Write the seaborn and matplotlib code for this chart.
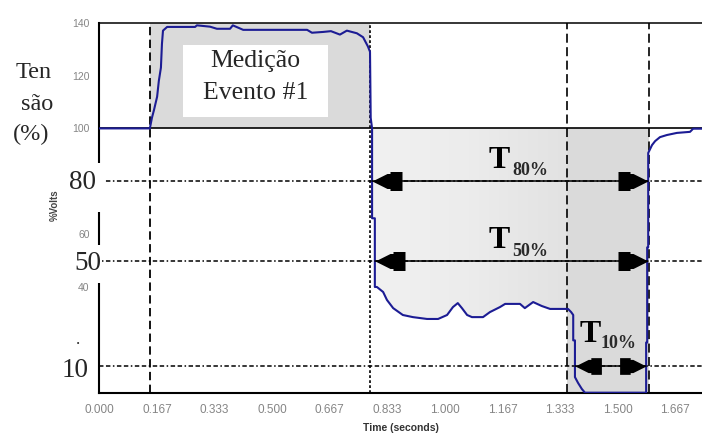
import numpy as np
import pandas as pd
import matplotlib
matplotlib.use('Agg')
import matplotlib.pyplot as plt
from matplotlib.path import Path
from matplotlib.markers import MarkerStyle
from matplotlib.patches import Rectangle
from matplotlib.colors import LinearSegmentedColormap
import seaborn as sns

# ---------------- data ----------------
time_s = [0.000, 0.146, 0.152, 0.158, 0.167, 0.172, 0.178, 0.181, 0.184, 0.196,
          0.277, 0.282, 0.320, 0.340, 0.378, 0.386, 0.416, 0.601, 0.615, 0.647,
          0.670, 0.696, 0.716, 0.745, 0.763, 0.777, 0.783, 0.785, 0.789, 0.789,
          0.797, 0.797, 0.803, 0.821, 0.832, 0.850, 0.878, 0.907, 0.948, 0.980,
          1.006, 1.023, 1.037, 1.049, 1.064, 1.078, 1.110, 1.130, 1.159, 1.174,
          1.217, 1.231, 1.255, 1.280, 1.304, 1.324, 1.356, 1.365, 1.371, 1.371,
          1.376, 1.376, 1.385, 1.396, 1.405, 1.582, 1.582, 1.585, 1.585, 1.588,
          1.588, 1.599, 1.608, 1.622, 1.642, 1.671, 1.709, 1.718, 1.744]
volts_pct = [100, 100, 104, 107, 112, 118, 123, 132, 137, 138.4,
             138.4, 139, 138.5, 137.7, 137.7, 139, 137.3, 137.3, 136.2, 136.5,
             136.8, 135.5, 137, 136, 134.5, 131, 129, 104, 100, 66,
             66, 40, 40, 38.1, 35.1, 32.0, 29.4, 28.6, 27.9, 27.9,
             29.4, 32.4, 33.9, 32.0, 29.4, 28.6, 28.6, 30.5, 32.4, 33.6,
             33.6, 32.0, 34.3, 32.8, 31.7, 31.7, 31.7, 30.5, 29.4, 19.8,
             19.8, 5.9, 3.7, 1.4, 0, 0, 19, 19, 55, 55,
             90.7, 93.7, 95.2, 96.7, 97.5, 98.3, 98.7, 99.9, 99.9]

x_ticks = [0, 1/6, 2/6, 3/6, 4/6, 5/6, 6/6, 7/6, 8/6, 9/6, 10/6]
x_tick_labels = ['0.000', '0.167', '0.333', '0.500', '0.667', '0.833',
                 '1.000', '1.167', '1.333', '1.500', '1.667']
y_ticks = [0, 20, 40, 60, 80, 100, 120, 140]
y_tick_labels = ['', '', '40', '60', '', '100', '120', '140']

event_start, event_end = 0.146, 0.783
t10_start, t10_end = 1.354, 1.590
thresholds = [80, 50, 10]
threshold_labels = ['80', '50', '10']
arrow_start = [0.789, 0.797, 1.376]
arrow_end = [1.588, 1.588, 1.582]
arrow_subs = ['80%', '50%', '10%']

# ---------------- style ----------------
sns.set_style('white')
plt.rcParams['font.family'] = ['Liberation Sans', 'DejaVu Sans']
plt.rcParams['lines.scale_dashes'] = False

W, H = 702, 436
fig = plt.figure(figsize=(W / 100, H / 100), dpi=100)
L, R, T, B = 99.4, 702, 22.7, 392.7
ax = fig.add_axes([L / W, 1 - B / H, (R - L) / W, (B - T) / H])
XMAX = (R - L) / 345.6


def fx(x):
    return x / W


def fy(y):
    return 1 - y / H


t = np.array(time_s)
v = np.array(volts_pct)

# ---------------- shaded regions ----------------
ax.fill_between([event_start, event_end], 100, 140, color='#dadada', lw=0, zorder=0.4)
ax.fill_between([t10_start, t10_end], 0, 100, color='#dadada', lw=0, zorder=0.4)

mask = (t > event_end) & (t < t10_start)
tb = np.concatenate([[event_end], t[mask], [t10_start]])
vb = np.concatenate([[np.interp(event_end, t, v)], v[mask], [np.interp(t10_start, t, v)]])
poly = ax.fill_between(tb, np.minimum(vb, 100), 100, facecolor='none', lw=0)
cmap = LinearSegmentedColormap.from_list('g', ['#f1f1f1', '#ececec', '#e2e2e2'])
grad = np.linspace(0, 1, 256).reshape(1, -1)
im = ax.imshow(grad, extent=[event_end, t10_start, 0, 100], aspect='auto',
               cmap=cmap, origin='lower', zorder=0.5, interpolation='bilinear')
im.set_clip_path(poly.get_paths()[0], ax.transData)

# ---------------- reference lines ----------------
ax.axhline(100, color='black', lw=1.2, zorder=2)
for th in thresholds:
    ax.axhline(th, color='black', lw=1.1, dashes=(3.2, 1.8, 3.2, 1.8, 1.1, 1.8), zorder=2)
ax.axvline(event_start, color='black', lw=1.3, dashes=(6, 3.2), zorder=2)
ax.axvline(event_end, color='black', lw=1.2, dashes=(2, 1.6), zorder=2)
ax.axvline(t10_start, color='black', lw=1.2, dashes=(6.5, 3.2), zorder=2)
ax.axvline(t10_end, color='black', lw=1.2, dashes=(6.5, 3.2), zorder=2)

# ---------------- curve ----------------
df = pd.DataFrame({'t': time_s, 'v': volts_pct})
sns.lineplot(data=df, x='t', y='v', sort=False, estimator=None,
             color='#1c1c94', lw=1.5, ax=ax, zorder=3)

# ---------------- arrows ----------------
head = [(0, 0), (15, -7.5), (18, -7.5), (18, -9.5), (30, -9.5), (30, 9.5),
        (18, 9.5), (18, 7.5), (15, 7.5), (0, 0)]
left_head = MarkerStyle(Path(head, closed=True))
right_head = MarkerStyle(Path([(-x, y) for x, y in head], closed=True))
for i, th in enumerate(thresholds):
    ms = 43.2 if i < 2 else 38
    ax.plot([arrow_start[i], arrow_end[i]], [th, th], color='black', lw=1.1, zorder=4)
    ax.plot([arrow_start[i]], [th], marker=left_head, ms=ms, color='black', mew=0,
            zorder=4, clip_on=False)
    ax.plot([arrow_end[i]], [th], marker=right_head, ms=ms, color='black', mew=0,
            zorder=4, clip_on=False)

# ---------------- axes ----------------
ax.set_xlim(0, XMAX)
ax.set_ylim(0, 140)
ax.set_xlabel('')
ax.set_ylabel('')
ax.set_xticks(x_ticks)
ax.set_xticklabels(x_tick_labels)
ax.set_yticks(y_ticks)
ax.set_yticklabels(y_tick_labels)
ax.tick_params(axis='x', direction='in', length=3, width=1.1, pad=8,
               labelsize=8.5, labelcolor='#858585', color='black')
ax.tick_params(axis='y', direction='in', length=3, width=1.1, pad=7,
               labelsize=7.5, labelcolor='#858585', color='black')
ax.spines['right'].set_visible(False)
ax.spines['left'].set_linewidth(1.5)
ax.spines['bottom'].set_linewidth(1.5)
ax.spines['top'].set_linewidth(1.1)
for s in ['left', 'bottom', 'top']:
    ax.spines[s].set_color('black')

fig.text(fx(401), fy(428), 'Time (seconds)', ha='center', va='center',
         fontsize=7.5, fontweight='bold', color='#333333')
fig.text(fx(55), fy(205), '%Volts', ha='center', va='center', rotation=90,
         fontsize=7, fontweight='bold', color='#444444')

# ---------------- overlays ----------------
serif = ['Liberation Serif', 'DejaVu Serif']


def white_box(x0, y0, x1, y1):
    ax.add_patch(Rectangle((fx(x0), fy(y1)), fx(x1) - fx(x0), fy(y0) - fy(y1),
                           transform=fig.transFigure, facecolor='white',
                           edgecolor='none', clip_on=False, zorder=10))


def ftext(x, y, s, **kw):
    ax.text(fx(x), fy(y), s, transform=fig.transFigure, clip_on=False,
            zorder=11, **kw)


white_box(58, 163, 105, 212)
white_box(66, 245, 102, 283)
white_box(183, 45, 328, 117)

ftext(83, 189, threshold_labels[0], family=serif, fontsize=19.5, ha='center', va='baseline')
ftext(87.5, 270, threshold_labels[1], family=serif, fontsize=19.5, ha='center', va='baseline')
ftext(75, 377, threshold_labels[2], family=serif, fontsize=19.5, ha='center', va='baseline')
ftext(78, 344, '.', family=serif, fontsize=12, ha='center', va='baseline')

ftext(34, 78, 'Ten', family=serif, fontsize=17.5, ha='center', va='baseline')
ftext(37.5, 110, 'são', family=serif, fontsize=17.5, ha='center', va='baseline')
ftext(31, 140, '(%)', family=serif, fontsize=17.5, ha='center', va='baseline')

ftext(255.5, 67, 'Medição', family=serif, fontsize=18.5, ha='center', va='baseline')
ftext(255.5, 99, 'Evento #1', family=serif, fontsize=18.5, ha='center', va='baseline')

t_pos = [(489, 168, 512, 175), (489, 248, 512, 256), (580, 342, 601, 348)]
for (tx, ty, sx, sy), sub in zip(t_pos, arrow_subs):
    ftext(tx, ty, 'T', family=serif, fontsize=23, fontweight='bold',
          ha='left', va='baseline', color='black')
    ftext(sx, sy, sub, family=serif, fontsize=13, fontweight='bold',
          ha='left', va='baseline', color='#2a2a2a')

fig.savefig('out.png', dpi=100)
